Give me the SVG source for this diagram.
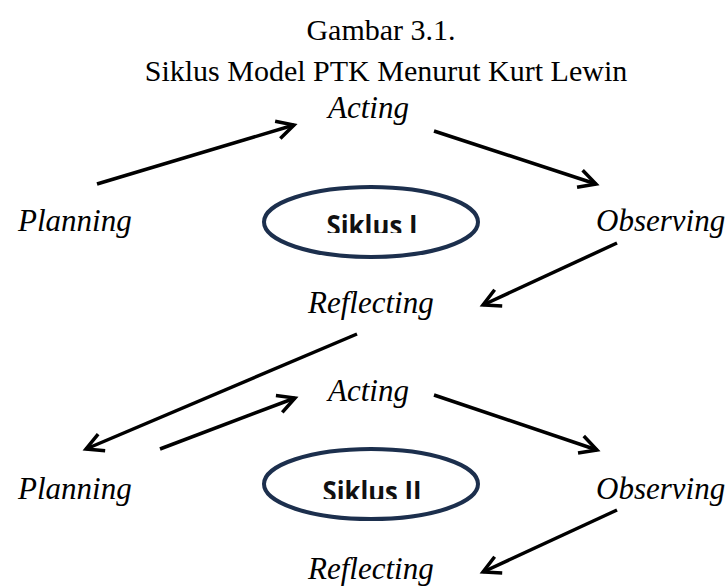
<svg xmlns="http://www.w3.org/2000/svg" width="727" height="586" viewBox="0 0 727 586">
<style>
.title{font-family:"Liberation Serif","Times New Roman",serif;font-size:30px;fill:#000;text-anchor:middle}
.lbl{font-family:"Liberation Serif","Times New Roman",serif;font-size:31px;font-style:italic;fill:#000}
.cyc{fill:none;stroke:#1c2f4d;stroke-width:4}
.cyct{font-family:"Open Sans","Liberation Sans",sans-serif;font-size:29px;font-weight:bold;fill:#111;text-anchor:middle}
.con line{stroke:#000;stroke-width:3.5;marker-end:url(#ah)}
</style>
<defs>
<marker id="ah" viewBox="-20 -12 24 24" refX="0" refY="0" markerWidth="24" markerHeight="24" markerUnits="userSpaceOnUse" orient="auto">
<path d="M-17,-9 L0,0 L-17,9" fill="none" stroke="#000" stroke-width="3.5" stroke-linejoin="miter"/>
</marker>
<clipPath id="c1"><rect x="250" y="190" width="240" height="43"/></clipPath>
<clipPath id="c2"><rect x="250" y="455" width="240" height="44"/></clipPath>
</defs>
<rect width="727" height="586" fill="#fff"/>
<g id="title">
<text class="title" x="381" y="40">Gambar 3.1.</text>
<text class="title" x="386" y="81">Siklus Model PTK Menurut Kurt Lewin</text>
</g>
<g id="connectors" class="con">
<line x1="97" y1="184" x2="294" y2="125"/>
<line x1="434" y1="131" x2="596" y2="184"/>
<line x1="617" y1="243" x2="483" y2="305"/>
<line x1="357" y1="334" x2="86" y2="449"/>
<line x1="160" y1="449" x2="295" y2="398"/>
<line x1="434" y1="395" x2="597" y2="450"/>
<line x1="617" y1="510" x2="483" y2="572"/>
</g>
<g id="acting1"><text class="lbl" x="328" y="118">Acting</text></g>
<g id="planning1"><text class="lbl" x="18" y="231">Planning</text></g>
<g id="observing1"><text class="lbl" x="596" y="231">Observing</text></g>
<g id="siklus1">
<ellipse class="cyc" cx="371" cy="222" rx="107" ry="35"/>
<text class="cyct" x="372" y="236" textLength="91" lengthAdjust="spacingAndGlyphs" clip-path="url(#c1)">Siklus I</text>
</g>
<g id="reflecting1"><text class="lbl" x="308" y="313">Reflecting</text></g>
<g id="acting2"><text class="lbl" x="328" y="401">Acting</text></g>
<g id="planning2"><text class="lbl" x="18" y="499">Planning</text></g>
<g id="observing2"><text class="lbl" x="596" y="499">Observing</text></g>
<g id="siklus2">
<ellipse class="cyc" cx="371" cy="484" rx="107" ry="35"/>
<text class="cyct" x="372" y="502" textLength="99" lengthAdjust="spacingAndGlyphs" clip-path="url(#c2)">Siklus II</text>
</g>
<g id="reflecting2"><text class="lbl" x="308" y="579">Reflecting</text></g>
</svg>
